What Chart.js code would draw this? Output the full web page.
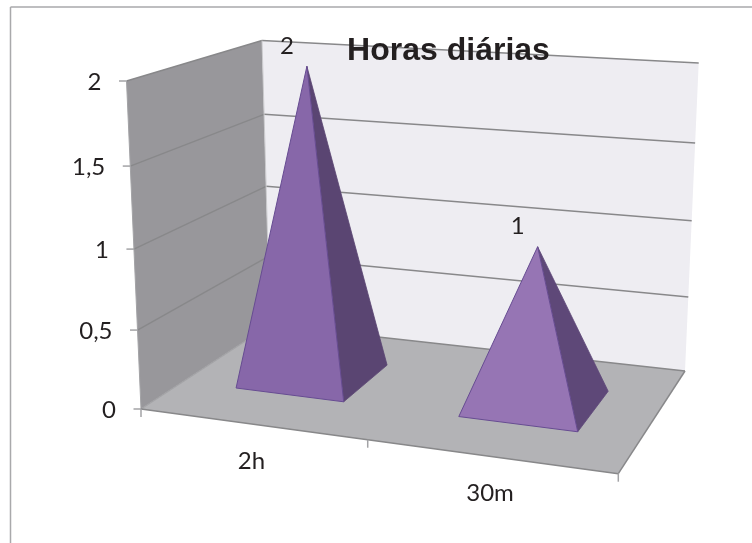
<!DOCTYPE html>
<html>
<head>
<meta charset="utf-8">
<title>Horas diárias</title>
<script src="https://cdn.jsdelivr.net/npm/chart.js@4/dist/chart.umd.js"></script>
<style>
  html, body { margin: 0; padding: 0; background: #fff; }
  canvas { display: block; }
</style>
</head>
<body>
<canvas id="horasChart" width="752" height="543"></canvas>
<script>
// chart data
const categories = ["2h", "30m"];
const horas = [2, 1];
const valueTicks = [0, 0.5, 1, 1.5, 2];

// colours of the pyramid faces, one per category
const frontFaceColors = ["#8767a9", "#9675b4"];
const sideFaceColors = ["#5a4572", "#5e4878"];

const textFont = "Lato, 'Open Sans', sans-serif";
const textColor = "#231f20";

// the four corners of the floor and of the top of the 3d box on screen
const floorCorners = { fl: [141, 409], fr: [618.3, 473.7], bl: [270, 325], br: [685, 371] };
const topCorners = { fl: [126.5, 81], fr: [630.4, 118.7], bl: [262, 40.5], br: [698.7, 63] };

// where the base of a pyramid starts and ends, going from front to back
const baseFront = 0.33;
const baseBack = 0.735;

const mix = (a, b, t) => [a[0] + (b[0] - a[0]) * t, a[1] + (b[1] - a[1]) * t];

const quadPoint = (q, u, w) => mix(mix(q.fl, q.fr, u), mix(q.bl, q.br, u), w);

// u = share of the x scale, w = depth into the box, t = share of the y scale
const project = (u, w, t) => {
  // things further along get squeezed a bit, this is the perspective of the picture
  const pu = u - 0.1 * u * (1 - u);
  const pt = t - 0.05 * t * (1 - t);
  return mix(quadPoint(floorCorners, pu, w), quadPoint(topCorners, pu, w), pt);
};

const shareOfY = (chart, value) => {
  const area = chart.chartArea;
  return (area.bottom - chart.scales.y.getPixelForValue(value)) / area.height;
};

const polygon = (ctx, points, fill, stroke, lineWidth) => {
  ctx.beginPath();
  points.forEach((p, i) => (i ? ctx.lineTo(p[0], p[1]) : ctx.moveTo(p[0], p[1])));
  ctx.closePath();
  if (fill) {
    ctx.fillStyle = fill;
    ctx.fill();
  }
  if (stroke) {
    ctx.strokeStyle = stroke;
    ctx.lineWidth = lineWidth;
    ctx.lineJoin = "round";
    ctx.stroke();
  }
};

const line = (ctx, a, b, color, lineWidth) => {
  ctx.beginPath();
  ctx.moveTo(a[0], a[1]);
  ctx.lineTo(b[0], b[1]);
  ctx.strokeStyle = color;
  ctx.lineWidth = lineWidth;
  ctx.stroke();
};

const label = (ctx, text, x, y, align) => {
  ctx.font = "24px " + textFont;
  ctx.fillStyle = textColor;
  ctx.textAlign = align;
  ctx.textBaseline = "middle";
  ctx.fillText(text, x, y);
};

// walls, floor and gridlines go under everything, also under the title
const boxPlugin = {
  id: "box",
  beforeDraw(chart) {
    const ctx = chart.ctx;
    ctx.save();

    // outer frame, only top and left show up in the picture
    line(ctx, [10.5, 7], [752, 7], "#a9a9ab", 1.5);
    line(ctx, [10.5, 7], [10.5, 543], "#a9a9ab", 1.5);

    polygon(ctx, [project(0, 0, 0), project(0, 1, 0), project(0, 1, 1), project(0, 0, 1)], "#98979b");
    polygon(ctx, [project(0, 1, 0), project(1, 1, 0), project(1, 1, 1), project(0, 1, 1)], "#eeedf2");
    polygon(ctx, [project(0, 0, 0), project(1, 0, 0), project(1, 1, 0), project(0, 1, 0)], "#b3b3b6");

    // gridlines on both walls, with the value axis ticks next to them
    chart.scales.y.ticks.forEach((tick) => {
      const t = shareOfY(chart, tick.value);
      line(ctx, project(0, 0, t), project(0, 1, t), tick.value === 0 ? "#a3a3a6" : "#88888a", 1.4);
      line(ctx, project(0, 1, t), project(1, 1, t), "#88888a", 1.5);
      const edge = project(0, 0, t);
      line(ctx, [edge[0] - 7.5, edge[1]], edge, "#a3a3a6", 1.5);
      label(ctx, tick.label, edge[0] - 25, edge[1] + 1.5, "right");
    });
    line(ctx, project(0, 0, 0), project(0, 0, 1), "#a3a3a6", 1);
    line(ctx, project(0, 1, 0), project(0, 1, 1), "#c9c9cc", 1);

    // front and right edge of the floor
    line(ctx, project(0, 0, 0), project(1, 0, 0), "#88888a", 1.5);
    line(ctx, project(1, 0, 0), project(1, 1, 0), "#88888a", 1.5);

    // ticks under the front edge, between the categories
    [0, 0.5, 1].forEach((u) => {
      const p = project(u, 0, 0);
      line(ctx, p, [p[0], p[1] + 8], "#a3a3a6", 1.5);
    });

    // category labels, they follow the front edge
    const area = chart.chartArea;
    chart.scales.x.ticks.forEach((tick, i) => {
      const u = (chart.scales.x.getPixelForTick(i) - area.left) / area.width;
      const p = project(u, 0, 0);
      label(ctx, tick.label, p[0], p[1] + 37, "center");
    });

    ctx.restore();
  },
};

// the bars of the dataset are not painted, a pyramid is drawn from each of them
const pyramidPlugin = {
  id: "pyramids",
  afterDatasetsDraw(chart) {
    const ctx = chart.ctx;
    const area = chart.chartArea;
    ctx.save();
    chart.getDatasetMeta(0).data.forEach((bar, i) => {
      const u = (bar.x - area.left) / area.width;
      const half = bar.width / 2 / area.width;
      const t = shareOfY(chart, horas[i]);
      const apex = project(u, (baseFront + baseBack) / 2, t);
      const frontLeft = project(u - half, baseFront, 0);
      const frontRight = project(u + half, baseFront, 0);
      const backRight = project(u + half, baseBack, 0);

      polygon(ctx, [apex, frontRight, backRight], sideFaceColors[i], sideFaceColors[i], 0.8);
      polygon(ctx, [apex, frontLeft, frontRight], frontFaceColors[i], "#674c92", 1);

      label(ctx, String(horas[i]), apex[0] - 20, apex[1] - 20, "center");
    });
    ctx.restore();
  },
};

new Chart(document.getElementById("horasChart"), {
  type: "bar",
  data: {
    labels: categories,
    datasets: [{
      label: "Horas diárias",
      data: horas,
      backgroundColor: "rgba(0,0,0,0)",
      categoryPercentage: 1,
      barPercentage: 0.496,
    }],
  },
  options: {
    responsive: false,
    animation: false,
    layout: { padding: { left: 145, right: 0, top: 0, bottom: 134 } },
    plugins: {
      legend: { display: false },
      tooltip: { enabled: false },
      title: {
        display: true,
        text: "Horas diárias",
        color: "#231f20",
        font: { family: "'Liberation Sans', Arial, sans-serif", size: 32, weight: "bold", lineHeight: 1.2 },
        padding: { top: 32, bottom: 10.6 },
      },
    },
    scales: {
      x: { display: false },
      y: {
        display: false,
        min: 0,
        max: 2,
        afterBuildTicks: (scale) => {
          scale.ticks = valueTicks.map((value) => ({ value }));
        },
        ticks: { callback: (value) => String(value).replace(".", ",") },
      },
    },
  },
  plugins: [boxPlugin, pyramidPlugin],
});
</script>
</body>
</html>
